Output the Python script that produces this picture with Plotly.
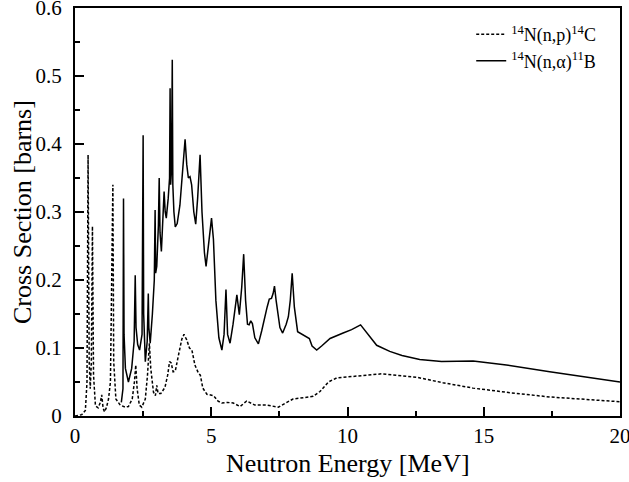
import plotly.graph_objects as go

# 14N(n,p)14C  (dotted)
np_energy = [0.0, 0.25, 0.38, 0.44, 0.48, 0.52, 0.56, 0.60, 0.64, 0.68, 0.75, 0.85, 0.93, 0.98,
             1.03, 1.08, 1.15, 1.23, 1.30, 1.34, 1.36, 1.39, 1.42, 1.50, 1.66, 1.85, 1.96, 2.10,
             2.18, 2.23, 2.28, 2.36, 2.45, 2.58, 2.66, 2.73, 2.78, 2.88, 2.95, 3.00, 3.05, 3.15,
             3.30, 3.40, 3.47, 3.53, 3.60, 3.68, 3.80, 3.92, 4.00, 4.10, 4.20, 4.29, 4.40, 4.53,
             4.60, 4.69, 4.84, 5.08, 5.25, 5.39, 5.60, 5.81, 6.06, 6.30, 6.60, 7.05, 7.46, 7.75,
             8.00, 8.40, 8.74, 8.99, 9.30, 9.60, 10.3, 11.25, 12.53, 13.5, 14.61, 16.0, 17.42,
             18.8, 20.0]
np_xs = [0.0, 0.002, 0.008, 0.05, 0.384, 0.08, 0.04, 0.08, 0.279, 0.06, 0.015, 0.012, 0.02, 0.031,
         0.012, 0.006, 0.012, 0.025, 0.05, 0.235, 0.2, 0.34, 0.08, 0.025, 0.016, 0.013, 0.014, 0.025,
         0.05, 0.075, 0.04, 0.016, 0.013, 0.025, 0.06, 0.107, 0.07, 0.035, 0.03, 0.045, 0.033, 0.033,
         0.042, 0.06, 0.08, 0.078, 0.065, 0.066, 0.09, 0.113, 0.12, 0.112, 0.1, 0.097, 0.075, 0.063,
         0.06, 0.041, 0.032, 0.030, 0.022, 0.019, 0.02, 0.019, 0.014, 0.022, 0.016, 0.016, 0.013, 0.02,
         0.025, 0.027, 0.029, 0.036, 0.05, 0.056, 0.059, 0.062, 0.057, 0.049, 0.041, 0.034, 0.028,
         0.024, 0.021]

# 14N(n,alpha)11B  (solid)
na_energy = [1.70, 1.76, 1.78, 1.80, 1.85, 1.96, 2.08, 2.17, 2.21, 2.24, 2.30, 2.37, 2.46, 2.50,
             2.52, 2.58, 2.65, 2.69, 2.71, 2.76, 2.84, 2.88, 2.91, 2.94, 2.96, 3.00, 3.06, 3.09,
             3.12, 3.17, 3.23, 3.27, 3.31, 3.35, 3.42, 3.47, 3.49, 3.51, 3.54, 3.57, 3.59, 3.63,
             3.68, 3.75, 3.85, 3.95, 4.04, 4.10, 4.16, 4.22, 4.28, 4.36, 4.43, 4.50, 4.59, 4.66,
             4.75, 4.81, 4.90, 5.01, 5.08, 5.17, 5.28, 5.39, 5.47, 5.54, 5.60, 5.69, 5.80, 5.94,
             6.03, 6.12, 6.19, 6.26, 6.33, 6.39, 6.45, 6.51, 6.60, 6.73, 6.85, 6.97, 7.05, 7.13,
             7.21, 7.27, 7.32, 7.38, 7.43, 7.52, 7.62, 7.75, 7.83, 7.90, 7.97, 8.05, 8.17, 8.40,
             8.60, 8.70, 8.87, 9.05, 9.36, 9.84, 10.15, 10.48, 10.65, 11.07, 11.55, 12.0, 12.65,
             13.45, 14.61, 15.83, 17.42, 20.0]
na_xs = [0.02, 0.04, 0.32, 0.12, 0.07, 0.05, 0.07, 0.11, 0.207, 0.13, 0.105, 0.097, 0.12, 0.413,
         0.15, 0.08, 0.11, 0.18, 0.13, 0.107, 0.15, 0.193, 0.2, 0.303, 0.21, 0.22, 0.28, 0.35,
         0.27, 0.242, 0.29, 0.33, 0.30, 0.291, 0.32, 0.35, 0.482, 0.34, 0.36, 0.524, 0.34, 0.30,
         0.278, 0.283, 0.31, 0.36, 0.407, 0.37, 0.35, 0.352, 0.34, 0.30, 0.282, 0.32, 0.384, 0.30,
         0.24, 0.22, 0.255, 0.291, 0.26, 0.17, 0.115, 0.097, 0.12, 0.186, 0.12, 0.107, 0.135, 0.178,
         0.149, 0.19, 0.238, 0.17, 0.135, 0.134, 0.14, 0.136, 0.115, 0.106, 0.125, 0.149, 0.16, 0.172,
         0.173, 0.18, 0.191, 0.17, 0.156, 0.13, 0.122, 0.135, 0.146, 0.17, 0.21, 0.16, 0.124, 0.118,
         0.114, 0.103, 0.097, 0.103, 0.114, 0.122, 0.127, 0.134, 0.125, 0.104, 0.095, 0.089, 0.083,
         0.080, 0.081, 0.075, 0.065, 0.050]

x_ticks = [0, 5, 10, 15, 20]
y_ticks = [0, 0.1, 0.2, 0.3, 0.4, 0.5, 0.6]
y_tick_text = ["0", "0.1", "0.2", "0.3", "0.4", "0.5", "0.6"]

label_np = "<sup>14</sup>N(n,p)<sup>14</sup>C"
label_na = "<sup>14</sup>N(n,\u03b1)<sup>11</sup>B"
x_title = "Neutron Energy [MeV]"
y_title = "Cross Section [barns]"

FONT = "Liberation Serif, Times New Roman, serif"

fig = go.Figure()
fig.add_trace(go.Scatter(x=np_energy, y=np_xs, mode="lines", name=label_np,
                         line=dict(color="black", width=1.5, dash="3px,2px")))
fig.add_trace(go.Scatter(x=na_energy, y=na_xs, mode="lines", name=label_na,
                         line=dict(color="black", width=1.5)))

axis_common = dict(showline=True, linewidth=2, linecolor="black", mirror=True,
                   ticks="inside", ticklen=9, tickwidth=1.5, tickcolor="black",
                   showgrid=False, zeroline=False, automargin=False,
                   ticklabeloverflow="allow",
                   tickfont=dict(family=FONT, size=21, color="black"))

fig.update_xaxes(range=[0, 20], tickmode="array", tickvals=x_ticks,
                 ticktext=[str(v) for v in x_ticks], ticklabelstandoff=0,
                 minor=dict(dtick=2.5, tick0=0, ticks="inside", ticklen=5, tickwidth=1.5,
                            tickcolor="black"),
                 **axis_common)
fig.update_yaxes(range=[0, 0.6], tickmode="array", tickvals=y_ticks, ticktext=y_tick_text,
                 ticklabelstandoff=7,
                 minor=dict(dtick=0.05, tick0=0, ticks="inside", ticklen=5, tickwidth=1.5,
                            tickcolor="black"),
                 **axis_common)

fig.add_annotation(text=x_title, xref="paper", yref="paper", x=0.5, y=0,
                   yshift=-47, xanchor="center", yanchor="middle", showarrow=False,
                   font=dict(family=FONT, size=26, color="black"))
fig.add_annotation(text=y_title, xref="paper", yref="paper", x=0, y=0.5,
                   xshift=-53, xanchor="center", yanchor="middle", showarrow=False,
                   textangle=-90, font=dict(family=FONT, size=26, color="black"))

fig.update_layout(
    width=629, height=482,
    margin=dict(l=75, r=9, t=8, b=66, autoexpand=False),
    paper_bgcolor="white", plot_bgcolor="white",
    font=dict(family=FONT, color="black"),
    showlegend=True,
    legend=dict(x=0.727, xanchor="left", y=0.980, yanchor="top",
                bgcolor="rgba(0,0,0,0)", borderwidth=0,
                font=dict(family=FONT, size=18, color="black"),
                tracegroupgap=0),
)

fig.write_html("out.html", config={"displayModeBar": False},
               post_script="document.body.style.margin='0';document.body.style.overflow='hidden';")
